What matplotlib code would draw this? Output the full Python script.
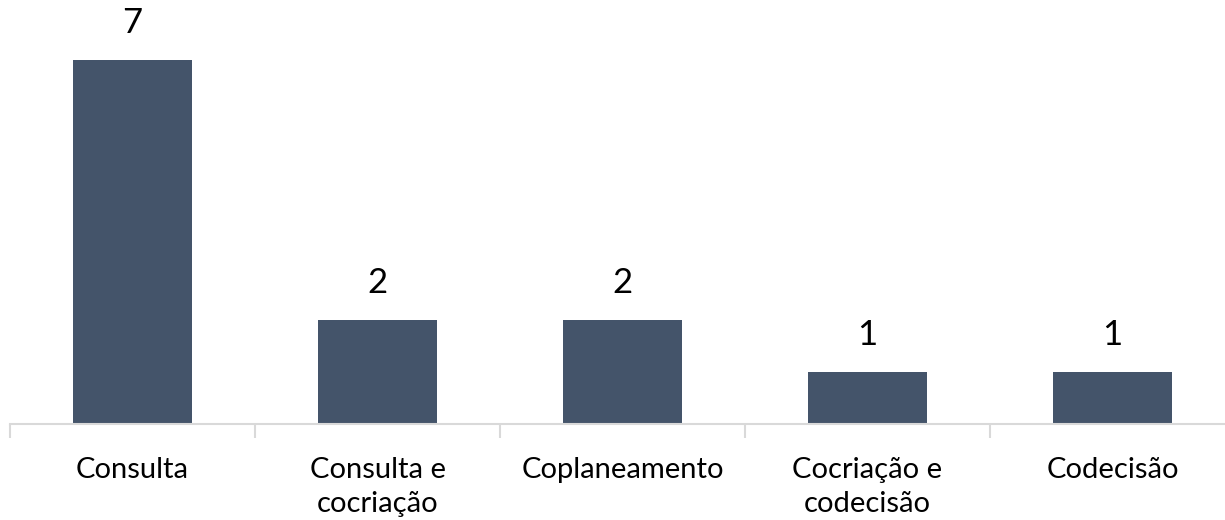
import matplotlib.pyplot as plt

categories = ['Consulta', 'Consulta e\ncocriação', 'Coplaneamento',
              'Cocriação e\ncodecisão', 'Codecisão']
values = [7, 2, 2, 1, 1]

bar_color = '#44546A'
axis_color = '#D9D9D9'

plt.rcParams['font.family'] = ['Lato', 'DejaVu Sans']

fig = plt.figure(figsize=(12.25, 5.2), dpi=100)
# axes spans one category width per slot; right end runs past the figure edge
ax = fig.add_axes([10 / 1225, 96 / 520, 1225 / 1225, 364 / 520])

x = range(len(categories))
bars = ax.bar(x, values, width=0.486, color=bar_color)

for rect, v in zip(bars, values):
    ax.annotate(str(v), (rect.get_x() + rect.get_width() / 2, v),
                xytext=(0, 15), textcoords='offset points',
                ha='center', va='bottom', fontsize=25, color='black')

ax.set_xlim(-0.5, len(categories) - 0.5)
ax.set_ylim(0, 7)

ax.set_xticks(list(x))
ax.set_xticklabels(categories, fontsize=21, linespacing=1.38)
ax.tick_params(axis='x', length=0, pad=24)
ax.set_xticks([i - 0.5 for i in range(len(categories) + 1)], minor=True)
ax.tick_params(axis='x', which='minor', length=10, color=axis_color, width=1.5)
ax.set_yticks([])

for side in ['top', 'right', 'left']:
    ax.spines[side].set_visible(False)
ax.spines['bottom'].set_color(axis_color)
ax.spines['bottom'].set_linewidth(1.5)

fig.savefig('out.png', dpi=100, facecolor='white')
